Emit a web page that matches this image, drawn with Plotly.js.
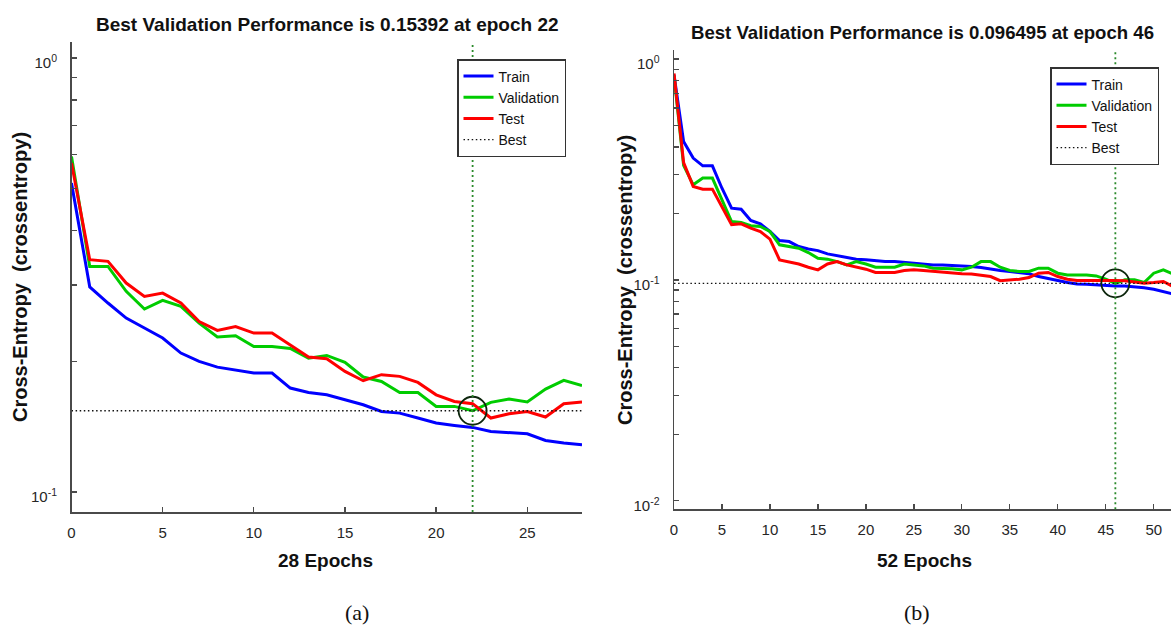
<!DOCTYPE html>
<html><head><meta charset="utf-8">
<script src="https://cdn.plot.ly/plotly-3.0.1.min.js"></script>
<style>html,body{margin:0;padding:0;background:#fff}#chart{width:1171px;height:626px}</style>
</head><body><div id="chart"></div>
<script>
// ---------- data (a) ----------
const epochsA = [0,1,2,3,4,5,6,7,8,9,10,11,12,13,14,15,16,17,18,19,20,21,22,23,24,25,26,27,28];
const trainA = [0.515,0.297,0.2726,0.2517,0.2387,0.2264,0.209,0.2,0.194,0.1913,0.188,0.188,0.1736,0.1696,0.1675,0.1632,0.1589,0.1533,0.152,0.1481,0.1442,0.1424,0.1409,0.1379,0.1372,0.1362,0.1315,0.1297,0.1285];
const validA = [0.593,0.331,0.331,0.290,0.264,0.2764,0.2678,0.245,0.2276,0.2291,0.2165,0.2165,0.2142,0.2035,0.2064,0.1989,0.1841,0.1798,0.1696,0.1696,0.1575,0.1575,0.15392,0.1609,0.1638,0.1612,0.1727,0.1808,0.176];
const testA  = [0.573,0.343,0.340,0.303,0.2822,0.2873,0.2726,0.247,0.2357,0.2407,0.2324,0.2324,0.2182,0.2047,0.2028,0.1896,0.1805,0.1864,0.1847,0.1789,0.1675,0.1617,0.1598,0.1481,0.1515,0.1533,0.1489,0.1598,0.1612];
const bestEpochA = 22, bestValA = 0.15392;

// ---------- data (b) ----------
const epochsB = [0,1,2,3,4,5,6,7,8,9,10,11,12,13,14,15,16,17,18,19,20,21,22,23,24,25,26,27,28,29,30,31,32,33,34,35,36,37,38,39,40,41,42,43,44,45,46,47,48,49,50,51,52];
const trainB = [0.85,0.423,0.356,0.3285,0.3285,0.26,0.2113,0.209,0.1857,0.1794,0.1656,0.1507,0.1491,0.1416,0.1381,0.1357,0.1311,0.1288,0.1267,0.1241,0.1232,0.1219,0.121,0.121,0.1198,0.119,0.118,0.1169,0.1169,0.1165,0.1158,0.1149,0.1138,0.1118,0.1103,0.109,0.108,0.1065,0.1035,0.1018,0.0994,0.0973,0.0959,0.0956,0.0949,0.0946,0.0939,0.0939,0.0932,0.0922,0.0906,0.0884,0.0864];
const validB = [0.84,0.33,0.2694,0.289,0.289,0.232,0.1837,0.1818,0.1758,0.1744,0.1656,0.1441,0.1416,0.1392,0.133,0.1254,0.1241,0.121,0.1169,0.121,0.118,0.1141,0.1141,0.1141,0.118,0.1169,0.1157,0.113,0.113,0.1122,0.111,0.1141,0.121,0.121,0.1141,0.1103,0.1091,0.1091,0.113,0.113,0.1072,0.1053,0.1053,0.1053,0.1042,0.1007,0.096495,0.1,0.1,0.0973,0.1072,0.111,0.1065];
const testB  = [0.86,0.34,0.265,0.2576,0.2576,0.2149,0.178,0.1794,0.1715,0.1656,0.1529,0.1232,0.121,0.118,0.1141,0.111,0.118,0.121,0.1169,0.1141,0.1118,0.108,0.108,0.108,0.1102,0.111,0.1102,0.1091,0.1084,0.1072,0.1065,0.1062,0.1051,0.1035,0.0991,0.1,0.1007,0.1025,0.1072,0.108,0.1035,0.1007,0.0993,0.0993,0.0993,0.1,0.0993,0.099,0.098,0.0966,0.0973,0.0984,0.0932];
const bestEpochB = 46, bestValB = 0.096495;

// ---------- labels ----------
const seriesNames = ['Train','Validation','Test'];
const bestName = 'Best';
const titleA = 'Best Validation Performance is 0.15392 at epoch 22';
const titleB = 'Best Validation Performance is 0.096495 at epoch 46';
const xLabelA = '28 Epochs', xLabelB = '52 Epochs';
const yLabel = 'Cross-Entropy  (crossentropy)';
const decadesA = [1, 0.1], tickTextA = ['10<sup>0</sup>','10<sup>-1</sup>'];
const decadesB = [1, 0.1, 0.01], tickTextB = ['10<sup>0</sup>','10<sup>-1</sup>','10<sup>-2</sup>'];
const minorSteps = [2,3,4,5,6,7,8,9];
const panelLabels = ['(a)','(b)'];

// ---------- styling ----------
const W = 1171, H = 626;
const colors = ['#0000ff','#00cc00','#ff0000'];
const FONT = '"Liberation Sans", Arial, Helvetica, sans-serif';
const axisCol = '#4a4a4a';
const px = v => v / W, py = v => 1 - v / H;
const minorVals = decs => decs.slice(1).flatMap(d => minorSteps.map(k => k * d));

function seriesTraces(x, ys, xa, ya, leg) {
  return ys.map((y, i) => ({
    type: 'scatter', mode: 'lines', x: x, y: y, name: seriesNames[i],
    xaxis: xa, yaxis: ya, legend: leg,
    line: {color: colors[i], width: 3}
  }));
}
function bestTraces(x, bestE, bestV, xa, ya, leg) {
  return [
    {type:'scatter', mode:'lines', x:[x[0], x[x.length-1]], y:[bestV, bestV], name: bestName,
     xaxis: xa, yaxis: ya, legend: leg, line:{color:'#111', width:1.3, dash:'1.5px,2.6px'}},
    {type:'scatter', mode:'markers', x:[bestE], y:[bestV], showlegend:false, xaxis: xa, yaxis: ya,
     marker:{symbol:'circle-open', size:28, color:'#0d260d', line:{width:1.8, color:'#0d260d'}}}
  ];
}

const data = [
  ...seriesTraces(epochsA, [trainA, validA, testA], 'x', 'y', 'legend'),
  ...bestTraces(epochsA, bestEpochA, bestValA, 'x', 'y', 'legend'),
  ...seriesTraces(epochsB, [trainB, validB, testB], 'x2', 'y2', 'legend2'),
  ...bestTraces(epochsB, bestEpochB, bestValB, 'x2', 'y2', 'legend2')
];

const xCommon = {
  showgrid:false, zeroline:false, showline:true, linecolor:axisCol, linewidth:1.5,
  ticks:'inside', ticklen:5, tickwidth:1.3, tickcolor:axisCol, dtick:5, ticklabelstandoff:6,
  tickfont:{family:FONT, size:15, color:'#262626'}, fixedrange:true
};
const yCommon = {
  type:'log', showgrid:false, zeroline:false, showline:true, linecolor:axisCol, linewidth:1.5,
  ticks:'inside', ticklen:5, tickwidth:1.3, tickcolor:axisCol, tickmode:'array',
  tickfont:{family:FONT, size:15, color:'#262626'}, ticklabelstandoff:10, ticklabelshift:5,
  fixedrange:true
};
function minorOf(decs) {
  return {tickmode:'array', tickvals:minorVals(decs), ticks:'inside', ticklen:5, tickwidth:1.2, tickcolor:axisCol, showgrid:false};
}

const layout = {
  width: W, height: H, margin:{l:0,r:0,t:0,b:0},
  paper_bgcolor:'#fff', plot_bgcolor:'#fff', showlegend:true,
  font:{family:FONT, color:'#111'},
  xaxis: Object.assign({}, xCommon, {domain:[px(71.5), px(582)], range:[0,28], anchor:'y'}),
  yaxis: Object.assign({}, yCommon, {domain:[py(512), py(42)], range:[-1.046, 0.0369], anchor:'x',
         tickvals: decadesA, ticktext: tickTextA, minor: minorOf(decadesA)}),
  xaxis2: Object.assign({}, xCommon, {domain:[px(674), 1], range:[0,51.8], anchor:'y2'}),
  yaxis2: Object.assign({}, yCommon, {domain:[py(509.3), py(50)], range:[-2.039, 0.041], anchor:'x2',
         tickvals: decadesB, ticktext: tickTextB, minor: minorOf(decadesB)}),
  legend:{x:px(457), y:py(59), xanchor:'left', yanchor:'top', bgcolor:'#fff', bordercolor:'#333', borderwidth:1.5,
          font:{family:FONT, size:14, color:'#111'}},
  legend2:{x:px(1050), y:py(67), xanchor:'left', yanchor:'top', bgcolor:'#fff', bordercolor:'#333', borderwidth:1.5,
          font:{family:FONT, size:14, color:'#111'}},
  shapes:[
    {type:'line', xref:'x', yref:'y domain', x0:bestEpochA, x1:bestEpochA, y0:0, y1:1, layer:'above',
     line:{color:'#2a8a2a', width:1.8, dash:'2px,3px'}},
    {type:'line', xref:'x2', yref:'y2 domain', x0:bestEpochB, x1:bestEpochB, y0:0, y1:1, layer:'above',
     line:{color:'#2a8a2a', width:1.8, dash:'2px,3px'}}
  ],
  annotations:[
    {text:'<b>'+titleA+'</b>', xref:'paper', yref:'paper', x:px(327), y:py(24), xanchor:'center', yanchor:'middle', showarrow:false,
     font:{family:FONT, size:19, color:'#111'}},
    {text:'<b>'+titleB+'</b>', xref:'paper', yref:'paper', x:px(922), y:py(32), xanchor:'center', yanchor:'middle', showarrow:false,
     font:{family:FONT, size:18.6, color:'#111'}},
    {text:'<b>'+xLabelA+'</b>', xref:'paper', yref:'paper', x:px(325), y:py(560), xanchor:'center', yanchor:'middle', showarrow:false,
     font:{family:FONT, size:19, color:'#111'}},
    {text:'<b>'+xLabelB+'</b>', xref:'paper', yref:'paper', x:px(924), y:py(560), xanchor:'center', yanchor:'middle', showarrow:false,
     font:{family:FONT, size:19, color:'#111'}},
    {text:'<b>'+yLabel+'</b>', xref:'paper', yref:'paper', x:px(20), y:py(277), xanchor:'center', yanchor:'middle', textangle:-90, showarrow:false,
     font:{family:FONT, size:20, color:'#111'}},
    {text:'<b>'+yLabel+'</b>', xref:'paper', yref:'paper', x:px(625), y:py(280), xanchor:'center', yanchor:'middle', textangle:-90, showarrow:false,
     font:{family:FONT, size:20, color:'#111'}},
    {text:panelLabels[0], xref:'paper', yref:'paper', x:px(357), y:py(612), xanchor:'center', yanchor:'middle', showarrow:false,
     font:{family:'"Liberation Serif", "DejaVu Serif", serif', size:22, color:'#111'}},
    {text:panelLabels[1], xref:'paper', yref:'paper', x:px(917), y:py(612), xanchor:'center', yanchor:'middle', showarrow:false,
     font:{family:'"Liberation Serif", "DejaVu Serif", serif', size:22, color:'#111'}}
  ]
};

Plotly.newPlot('chart', data, layout, {displayModeBar:false, staticPlot:true});
</script>
</body></html>
